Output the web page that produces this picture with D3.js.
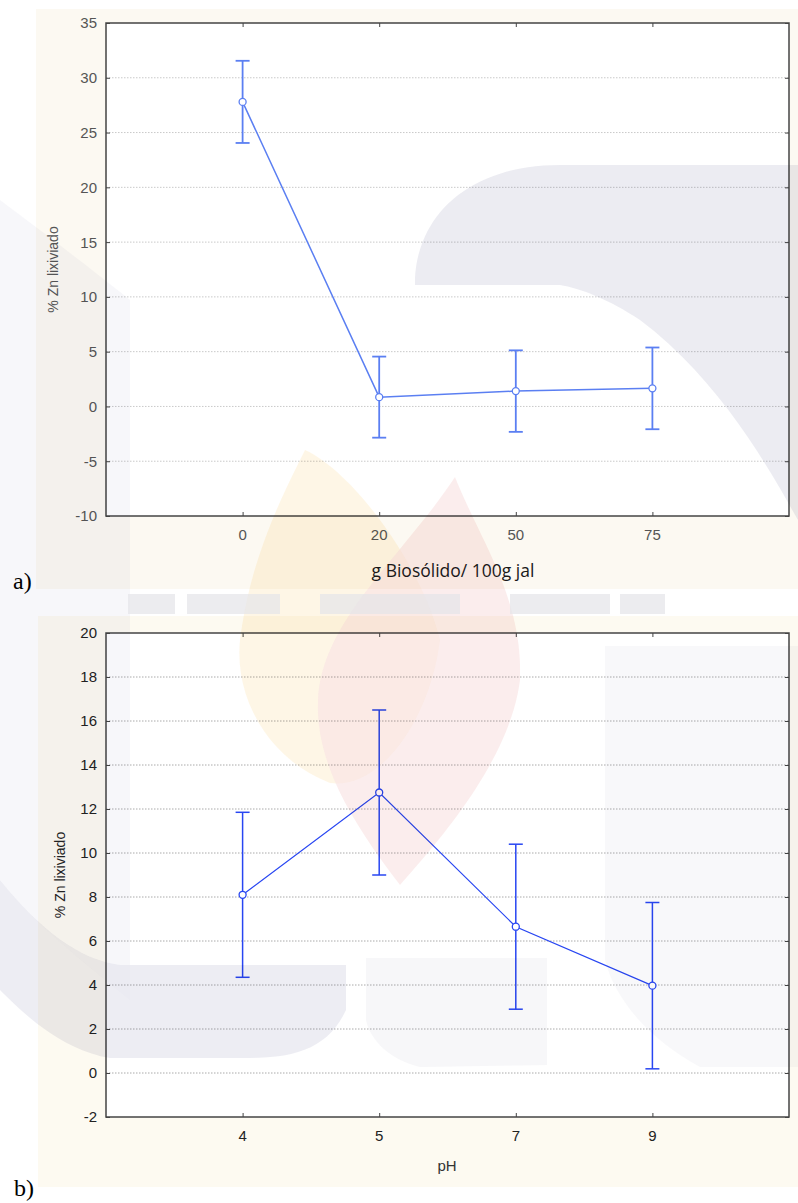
<!DOCTYPE html>
<html>
<head>
<meta charset="utf-8">
<script src="https://cdn.jsdelivr.net/npm/d3@7"></script>
<style>
  body { margin: 0; background: #fff; }
  svg { display: block; }
  .wm { mix-blend-mode: multiply; pointer-events: none; }
</style>
</head>
<body>
<script>
// panel a: dose of biosolid
var doseCats = ["0", "20", "50", "75"];
var doseMean = [27.8, 0.85, 1.4, 1.65];
var doseErr = [3.75, 3.7, 3.72, 3.73];
var doseTicks = [-10, -5, 0, 5, 10, 15, 20, 25, 30, 35];

// panel b: pH
var phCats = ["4", "5", "7", "9"];
var phMean = [8.1, 12.75, 6.65, 3.97];
var phErr = [3.75, 3.75, 3.75, 3.78];
var phTicks = [-2, 0, 2, 4, 6, 8, 10, 12, 14, 16, 18, 20];

var W = 798, H = 1203;
var svg = d3.select("body").append("svg").attr("width", W).attr("height", H);

// beige frames of the two exported graphs
svg.append("rect").attr("x", 36).attr("y", 9).attr("width", 762).attr("height", 580).attr("fill", "#fcf9f2");
svg.append("rect").attr("x", 38).attr("y", 616).attr("width", 760).attr("height", 571).attr("fill", "#fdfaf1");

function drawPanel(o) {
  var g = svg.append("g");
  var x = d3.scalePoint().domain(o.cats).range([o.left, o.right]).padding(1);
  var y = d3.scaleLinear().domain(o.domain).range([o.bottom, o.top]);

  g.append("rect")
    .attr("x", o.left).attr("y", o.top)
    .attr("width", o.right - o.left).attr("height", o.bottom - o.top)
    .attr("fill", "#fff");

  // grid
  g.selectAll(".grid").data(o.ticks.slice(1, -1)).enter().append("line")
    .attr("x1", o.left).attr("x2", o.right)
    .attr("y1", function(d) { return y(d); }).attr("y2", function(d) { return y(d); })
    .attr("stroke", o.gridColor).attr("stroke-width", 1)
    .attr("stroke-dasharray", "1.5,1.5");

  // axes with inward ticks
  g.append("g").attr("transform", "translate(" + o.left + ",0)")
    .call(d3.axisRight(y).tickValues(o.ticks).tickSize(4).tickFormat(""))
    .call(function(a) { a.select(".domain").remove(); a.selectAll("line").attr("stroke", "#444"); });
  g.append("g").attr("transform", "translate(" + o.right + ",0)")
    .call(d3.axisLeft(y).tickValues(o.ticks).tickSize(4).tickFormat(""))
    .call(function(a) { a.select(".domain").remove(); a.selectAll("line").attr("stroke", "#444"); });
  g.append("g").attr("transform", "translate(0," + o.bottom + ")")
    .call(d3.axisTop(x).tickSize(4).tickFormat(""))
    .call(function(a) { a.select(".domain").remove(); a.selectAll("line").attr("stroke", "#444"); });
  g.append("g").attr("transform", "translate(0," + o.top + ")")
    .call(d3.axisBottom(x).tickSize(4).tickFormat(""))
    .call(function(a) { a.select(".domain").remove(); a.selectAll("line").attr("stroke", "#444"); });

  g.append("rect")
    .attr("x", o.left).attr("y", o.top)
    .attr("width", o.right - o.left).attr("height", o.bottom - o.top)
    .attr("fill", "none").attr("stroke", "#444").attr("stroke-width", 1.5);

  // tick labels
  g.selectAll(".yl").data(o.ticks).enter().append("text")
    .attr("x", o.left - 9).attr("y", function(d) { return y(d); })
    .attr("dy", "0.36em").attr("text-anchor", "end")
    .style("font-family", "Liberation Sans, Arial, sans-serif")
    .style("font-size", "15px").attr("fill", o.tickColor)
    .text(function(d) { return d; });
  g.selectAll(".xl").data(o.cats).enter().append("text")
    .attr("x", function(d) { return x(d); }).attr("y", o.bottom + 19)
    .attr("dy", "0.36em").attr("text-anchor", "middle")
    .style("font-family", "Liberation Sans, Arial, sans-serif")
    .style("font-size", "15px").attr("fill", o.tickColor)
    .text(function(d) { return d; });

  // axis titles
  g.append("text")
    .attr("transform", "translate(" + o.ylabX + "," + ((o.top + o.bottom) / 2) + ") rotate(-90)")
    .attr("dy", "0.36em").attr("text-anchor", "middle")
    .style("font-family", "Liberation Sans, Arial, sans-serif")
    .style("font-size", "14px").attr("fill", o.tickColor)
    .text("% Zn lixiviado");
  g.append("text")
    .attr("x", o.xlabX).attr("y", o.xlabY).attr("dy", "0.36em")
    .attr("text-anchor", "middle")
    .style("font-family", o.xlabFont).style("font-size", o.xlabSize)
    .attr("fill", o.xlabColor)
    .text(o.xlab);

  var data = o.cats.map(function(c, i) { return { c: c, m: o.mean[i], e: o.err[i] }; });

  // line
  g.append("path").datum(data)
    .attr("fill", "none").attr("stroke", o.color).attr("stroke-width", o.lw)
    .attr("d", d3.line().x(function(d) { return x(d.c); }).y(function(d) { return y(d.m); }));

  // error bars
  var eb = g.selectAll(".eb").data(data).enter().append("g")
    .attr("stroke", o.color).attr("stroke-width", o.lw + 0.3);
  eb.append("line")
    .attr("x1", function(d) { return x(d.c); }).attr("x2", function(d) { return x(d.c); })
    .attr("y1", function(d) { return y(d.m + d.e); }).attr("y2", function(d) { return y(d.m - d.e); });
  eb.append("line")
    .attr("x1", function(d) { return x(d.c) - 7; }).attr("x2", function(d) { return x(d.c) + 7; })
    .attr("y1", function(d) { return y(d.m + d.e); }).attr("y2", function(d) { return y(d.m + d.e); });
  eb.append("line")
    .attr("x1", function(d) { return x(d.c) - 7; }).attr("x2", function(d) { return x(d.c) + 7; })
    .attr("y1", function(d) { return y(d.m - d.e); }).attr("y2", function(d) { return y(d.m - d.e); });

  g.selectAll(".pt").data(data).enter().append("circle")
    .attr("cx", function(d) { return x(d.c); }).attr("cy", function(d) { return y(d.m); })
    .attr("r", 3.5).attr("fill", "#fff").attr("stroke", o.color).attr("stroke-width", 1.3);
}

drawPanel({
  cats: doseCats, mean: doseMean, err: doseErr, ticks: doseTicks, domain: [-10, 35],
  left: 106, right: 789, top: 23, bottom: 516,
  color: "#5b7ff2", lw: 1.5, gridColor: "#c9c9c9", tickColor: "#555",
  ylabX: 53, xlab: "g Biosólido/ 100g jal", xlabX: 453, xlabY: 571,
  xlabFont: "Open Sans, sans-serif", xlabSize: "17.5px", xlabColor: "#1a1a1a"
});

drawPanel({
  cats: phCats, mean: phMean, err: phErr, ticks: phTicks, domain: [-2, 20],
  left: 106, right: 789, top: 633, bottom: 1117,
  color: "#2846f2", lw: 1.2, gridColor: "#aaa", tickColor: "#222",
  ylabX: 60, xlab: "pH", xlabX: 447, xlabY: 1166,
  xlabFont: "Liberation Sans, Arial, sans-serif", xlabSize: "15px", xlabColor: "#333"
});

// panel letters
svg.append("text").attr("x", 13).attr("y", 589)
  .style("font-family", "Liberation Serif, Times New Roman, serif").style("font-size", "24px")
  .text("a)");
svg.append("text").attr("x", 14).attr("y", 1196)
  .style("font-family", "Liberation Serif, Times New Roman, serif").style("font-size", "24px")
  .text("b)");

// faded logo watermark over the page
var wm = svg.append("g").attr("class", "wm");
wm.append("path").attr("fill", "#e6e6ee").attr("opacity", 0.75)
  .attr("d", "M415,285 C415,215 470,165 560,165 L798,165 L798,520 C770,470 720,380 640,320 C610,300 580,288 560,285 Z");
wm.append("path").attr("fill", "#eeeef3").attr("opacity", 0.45)
  .attr("d", "M0,200 C40,230 80,260 130,300 L130,1000 C80,960 30,920 0,880 Z");
wm.append("path").attr("fill", "#e6e6ee").attr("opacity", 0.7)
  .attr("d", "M0,880 C40,930 80,960 120,965 L346,965 L346,1010 C330,1045 300,1058 250,1058 L110,1058 C60,1050 20,1010 0,990 Z");
wm.append("path").attr("fill", "#f0f0f4").attr("opacity", 0.5)
  .attr("d", "M366,958 L547,958 L547,1065 L420,1067 C390,1060 370,1040 366,1020 Z");
wm.append("path").attr("fill", "#f3f3f6").attr("opacity", 0.6)
  .attr("d", "M605,646 L798,646 L798,1067 L700,1067 C650,1040 615,1000 605,960 Z");
wm.append("path").attr("fill", "#fdf2dc").attr("opacity", 0.7)
  .attr("d", "M305,450 C350,470 420,560 440,640 C430,720 380,790 330,783 C270,760 234,700 240,640 C250,560 280,500 305,450 Z");
wm.append("path").attr("fill", "#f9e3e3").attr("opacity", 0.65)
  .attr("d", "M455,477 C480,540 524,600 520,680 C510,760 440,840 400,885 C350,820 315,760 318,700 C322,620 400,560 455,477 Z");
[[128, 47], [187, 93], [320, 140], [510, 100], [620, 45]].forEach(function(b) {
  wm.append("rect").attr("x", b[0]).attr("y", 594).attr("width", b[1]).attr("height", 20)
    .attr("fill", "#e4e4e8").attr("opacity", 0.7);
});
</script>
</body>
</html>
